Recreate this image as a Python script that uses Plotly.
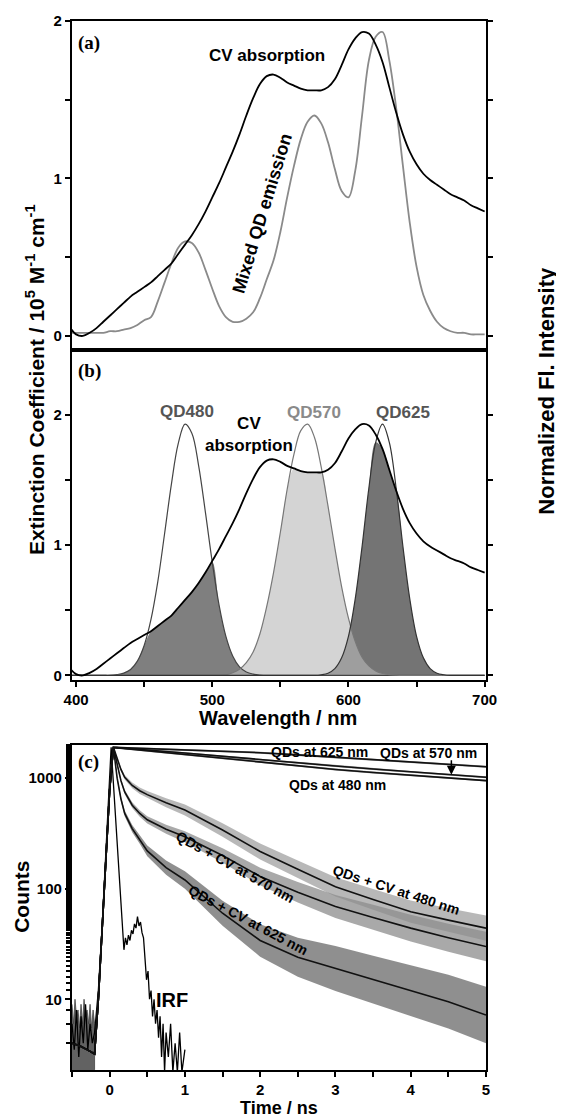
import numpy as np
import plotly.graph_objects as go

# ---------------- data: panels (a) and (b) ----------------
wl = list(range(395, 701, 5))
cv_abs = [0.06, 0.01, 0.00, 0.02, 0.05, 0.09, 0.13, 0.17, 0.21, 0.25,
          0.28, 0.31, 0.34, 0.38, 0.42, 0.46, 0.52, 0.58, 0.64, 0.71,
          0.79, 0.88, 0.97, 1.07, 1.17, 1.28, 1.40, 1.51, 1.60, 1.65,
          1.66, 1.64, 1.61, 1.59, 1.57, 1.56, 1.56, 1.56, 1.58, 1.63,
          1.72, 1.82, 1.89, 1.93, 1.92, 1.85, 1.74, 1.58, 1.42, 1.28,
          1.17, 1.09, 1.03, 0.99, 0.96, 0.93, 0.90, 0.88, 0.86, 0.83,
          0.81, 0.79]
mixed_em = [0.02, 0.02, 0.02, 0.02, 0.02, 0.02, 0.03, 0.03, 0.04, 0.05,
            0.07, 0.10, 0.12, 0.22, 0.34, 0.46, 0.56, 0.60, 0.59, 0.53,
            0.42, 0.30, 0.19, 0.12, 0.09, 0.09, 0.11, 0.15, 0.24, 0.36,
            0.48, 0.66, 0.88, 1.08, 1.25, 1.36, 1.40, 1.35, 1.23, 1.06,
            0.92, 0.88, 1.05, 1.40, 1.75, 1.90, 1.93, 1.75, 1.45, 1.08,
            0.72, 0.44, 0.26, 0.16, 0.09, 0.05, 0.03, 0.02, 0.02, 0.01,
            0.01, 0.01]
qd480 = [0, 0, 0, 0, 0, 0, 0, 0.006, 0.018, 0.046,
         0.11, 0.23, 0.43, 0.72, 1.09, 1.47, 1.78, 1.93, 1.86, 1.61,
         1.25, 0.87, 0.54, 0.30, 0.15, 0.066, 0.026, 0.01, 0.003, 0,
         0, 0, 0, 0, 0, 0, 0, 0, 0, 0,
         0, 0, 0, 0, 0, 0, 0, 0, 0, 0,
         0, 0, 0, 0, 0, 0, 0, 0, 0, 0,
         0, 0]
qd570 = [0, 0, 0, 0, 0, 0, 0, 0, 0, 0,
         0, 0, 0, 0, 0, 0, 0, 0, 0, 0,
         0, 0, 0, 0.005, 0.021, 0.048, 0.098, 0.18, 0.32, 0.53,
         0.79, 1.10, 1.43, 1.70, 1.88, 1.93, 1.83, 1.60, 1.30, 0.98,
         0.68, 0.44, 0.26, 0.14, 0.073, 0.035, 0.015, 0.006, 0.002, 0,
         0, 0, 0, 0, 0, 0, 0, 0, 0, 0,
         0, 0]
qd625 = [0, 0, 0, 0, 0, 0, 0, 0, 0, 0,
         0, 0, 0, 0, 0, 0, 0, 0, 0, 0,
         0, 0, 0, 0, 0, 0, 0, 0, 0, 0,
         0, 0, 0, 0, 0, 0, 0, 0.005, 0.017, 0.052,
         0.135, 0.30, 0.59, 0.99, 1.44, 1.79, 1.93, 1.79, 1.44, 0.99,
         0.59, 0.30, 0.135, 0.052, 0.017, 0.005, 0, 0, 0, 0,
         0, 0]

# ---------------- data: panel (c) ----------------
t = [-0.5, -0.4, -0.3, -0.2, -0.15, -0.1, -0.05, 0.0, 0.05, 0.1, 0.15, 0.2,
     0.3, 0.4, 0.5, 0.75, 1.0, 1.5, 2.0, 2.5, 3.0, 3.5, 4.0, 4.5, 5.0]
rise = [4.0, 3.8, 3.5, 3.2, 10, 43, 180, 780, 1900]
qd625_fit = rise + [1895, 1890, 1885, 1880, 1870, 1860, 1835, 1810, 1755, 1700,
                    1625, 1550, 1475, 1400, 1335, 1270]
qd570_fit = rise + [1890, 1875, 1860, 1840, 1820, 1800, 1745, 1690, 1575, 1470,
                    1375, 1290, 1210, 1140, 1075, 1020]
qd480_fit = rise + [1885, 1865, 1845, 1820, 1795, 1770, 1705, 1640, 1515, 1400,
                    1295, 1200, 1125, 1060, 1000, 950]
cv480_fit = rise + [1500, 1200, 1020, 860, 770, 710, 600, 516, 340, 217,
                    150, 104, 80, 62, 52, 44]
cv570_fit = rise + [1300, 950, 750, 570, 480, 420, 345, 295, 200, 129,
                    93, 69, 55, 44, 36, 30]
cv625_fit = rise + [1000, 650, 480, 350, 280, 220, 155, 120, 60, 34,
                    24, 19, 15, 12, 9.5, 7.2]
# relative scatter of the noisy decay data around each fit
spread_slow = [1.0] * 9 + [1.02] * 16
spread_cv480 = [1.0] * 9 + [1.03, 1.04, 1.05, 1.06, 1.07, 1.08, 1.10, 1.12, 1.15,
                            1.18, 1.2, 1.22, 1.24, 1.26, 1.28, 1.3]
spread_cv570 = [1.0] * 9 + [1.03, 1.04, 1.05, 1.06, 1.07, 1.08, 1.10, 1.12, 1.16,
                            1.2, 1.24, 1.27, 1.3, 1.32, 1.34, 1.36]
spread_cv625 = [1.0] * 9 + [1.04, 1.05, 1.06, 1.08, 1.1, 1.12, 1.16, 1.2, 1.3,
                            1.4, 1.5, 1.6, 1.65, 1.7, 1.75, 1.8]
irf_t = [-0.5, -0.47, -0.44, -0.41, -0.38, -0.35, -0.32, -0.29, -0.26, -0.23,
         -0.2, -0.15, -0.1, -0.05, 0.0, 0.02, 0.05, 0.1, 0.15, 0.19, 0.21,
         0.23, 0.25, 0.27, 0.29, 0.31, 0.33, 0.35, 0.37, 0.39, 0.41, 0.43,
         0.45, 0.47, 0.49, 0.51, 0.53, 0.55, 0.57, 0.59, 0.61, 0.63, 0.65,
         0.67, 0.69, 0.71, 0.73, 0.75, 0.78, 0.81, 0.84, 0.87, 0.9, 0.93,
         0.96, 1.0]
irf = [6, 3.5, 8, 3, 7, 4, 9, 3.5, 6, 4, 5, 12, 45, 200, 900, 1900, 900, 263,
       76, 28, 36, 31, 38, 34, 42, 39, 48, 44, 56, 46, 50, 40, 36, 24, 15, 18,
       10, 12, 7, 10, 6, 8, 4.5, 7, 3, 6, 2.2, 5, 3, 6, 2.2, 4, 2.2, 5, 2.2, 3.5]
# pre-pulse background noise of the decay traces
noise_t = [-0.5, -0.48, -0.46, -0.44, -0.42, -0.4, -0.38, -0.36, -0.34, -0.32,
           -0.3, -0.28, -0.26, -0.24, -0.22, -0.2]
noise_hi = [9, 6, 10, 7, 8, 5.5, 9, 6, 10, 7, 8, 6, 9, 5.5, 8, 6]
noise_lo = [2.3] * 16

FONT = "Liberation Sans, Arial"
SERIF = "Liberation Serif, Times New Roman"

fig = go.Figure()

# panel (a)
fig.add_trace(go.Scatter(x=wl, y=mixed_em, mode="lines", line=dict(color="#8a8a8a", width=1.8, shape="spline"),
                         xaxis="x", yaxis="y", showlegend=False))
fig.add_trace(go.Scatter(x=wl, y=cv_abs, mode="lines", line=dict(color="black", width=1.8, shape="spline"),
                         xaxis="x", yaxis="y", showlegend=False))

# panel (b) fills: overlap of each QD emission with CV absorption
cv_arr = np.array(cv_abs)
for qd, col in [(qd480, "#7f7f7f"), (qd625, "#747474"), (qd570, "rgba(184,184,184,0.61)")]:
    ov = np.minimum(np.array(qd), cv_arr)
    fig.add_trace(go.Scatter(x=wl, y=ov, mode="lines", line=dict(width=0, shape="spline"),
                             fill="tozeroy", fillcolor=col, xaxis="x2", yaxis="y2", showlegend=False))
for qd, col in [(qd480, "#444444"), (qd570, "#777777"), (qd625, "#333333")]:
    fig.add_trace(go.Scatter(x=wl, y=qd, mode="lines", line=dict(color=col, width=1.2, shape="spline"),
                             xaxis="x2", yaxis="y2", showlegend=False))
fig.add_trace(go.Scatter(x=wl, y=cv_abs, mode="lines", line=dict(color="black", width=1.8, shape="spline"),
                         xaxis="x2", yaxis="y2", showlegend=False))

# panel (c)
fig.add_trace(go.Scatter(x=noise_t + noise_t[::-1], y=noise_hi + noise_lo[::-1], fill="toself", mode="lines",
                         fillcolor="rgba(70,70,70,0.85)", line=dict(width=0.8, color="#444444"),
                         xaxis="x3", yaxis="y3", showlegend=False))
for fit, spr, col in [(qd625_fit, spread_slow, "rgba(120,120,120,0.8)"),
                      (qd570_fit, spread_slow, "rgba(120,120,120,0.8)"),
                      (qd480_fit, spread_slow, "rgba(120,120,120,0.8)"),
                      (cv480_fit, spread_cv480, "rgba(160,160,160,0.75)"),
                      (cv570_fit, spread_cv570, "rgba(140,140,140,0.75)"),
                      (cv625_fit, spread_cv625, "rgba(115,115,115,0.8)")]:
    f = np.array(fit, dtype=float)
    s = np.array(spr)
    up = f * s
    lo = f / s
    fig.add_trace(go.Scatter(x=t + t[::-1], y=list(up) + list(lo[::-1]), fill="toself", mode="lines",
                             fillcolor=col, line=dict(width=0), xaxis="x3", yaxis="y3",
                             showlegend=False, hoverinfo="skip"))
fig.add_trace(go.Scatter(x=irf_t, y=irf, mode="lines", line=dict(color="black", width=1.3),
                         xaxis="x3", yaxis="y3", showlegend=False))
for fit in [qd625_fit, qd570_fit, qd480_fit, cv480_fit, cv570_fit, cv625_fit]:
    fig.add_trace(go.Scatter(x=t, y=fit, mode="lines", line=dict(color="#111111", width=1.6),
                             xaxis="x3", yaxis="y3", showlegend=False))

tickfont = dict(family=FONT, size=15, color="black", weight="bold")
axis_common = dict(showline=True, linewidth=2.2, linecolor="black", showgrid=False, zeroline=False,
                   ticks="outside", tickwidth=2, ticklen=5, tickcolor="black", tickfont=tickfont,
                   automargin=False)

# the page body adds an 8 px margin, so the figure is sized and placed to compensate
fig.update_layout(
    width=556, height=1110,
    margin=dict(l=64, r=78, t=13, b=48),
    paper_bgcolor="white", plot_bgcolor="white",
    xaxis=dict(axis_common, domain=[0, 1], anchor="y", range=[397, 701], showticklabels=False,
               ticks="", mirror=True),
    yaxis=dict(axis_common, domain=[0.6864, 1.0], anchor="x", range=[-0.089, 2.0],
               tickvals=[0, 1, 2], mirror="ticks",
               minor=dict(ticks="outside", tickvals=[0.5, 1.5], ticklen=5, tickwidth=2, tickcolor="black")),
    xaxis2=dict(axis_common, domain=[0, 1], anchor="y2", range=[397, 701],
                tickvals=[400, 500, 600, 700], mirror=True,
                minor=dict(ticks="outside", tickvals=[450, 550, 650], ticklen=5, tickwidth=2, tickcolor="black")),
    yaxis2=dict(axis_common, domain=[0.3718, 0.6864], anchor="x2", range=[-0.035, 2.5],
                tickvals=[0, 1, 2], mirror="ticks",
                minor=dict(ticks="outside", tickvals=[0.5, 1.5], ticklen=5, tickwidth=2, tickcolor="black")),
    xaxis3=dict(axis_common, domain=[0, 1], anchor="y3", range=[-0.5, 5],
                tickvals=[0, 1, 2, 3, 4, 5], mirror=True,
                minor=dict(ticks="outside", tickvals=[-0.5, 0.5, 1.5, 2.5, 3.5, 4.5], ticklen=5,
                           tickwidth=2, tickcolor="black")),
    yaxis3=dict(axis_common, domain=[0, 0.3098], anchor="x3", type="log", range=[0.36, 3.30],
                tickvals=[10, 100, 1000], ticktext=["10", "100", "1000"], mirror=True,
                minor=dict(ticks="outside", ticklen=4, tickwidth=1.5, tickcolor="black")),
)

ann = []
def A(text, x, y, xref, yref, size=16, color="black", angle=0, family=FONT, **kw):
    ann.append(dict(text=text, x=x, y=y, xref=xref, yref=yref, showarrow=False, textangle=angle,
                    xanchor="center", yanchor="middle",
                    font=dict(family=family, size=size, color=color, weight="bold"), **kw))

# panel (a)
A("(a)", 409.6, 1.86, "x", "y", size=19, family=SERIF)
A("CV absorption", 540.4, 1.78, "x", "y", size=17)
A("Mixed QD emission", 536.8, 0.78, "x", "y", size=18, angle=-73)
# panel (b)
A("(b)", 409.6, 2.34, "x2", "y2", size=19, family=SERIF)
A("QD480", 481.6, 2.03, "x2", "y2", size=17, color="#555555")
A("CV<br>absorption", 527, 1.85, "x2", "y2", size=17)
A("QD570", 575, 2.02, "x2", "y2", size=17, color="#8a8a8a")
A("QD625", 639.7, 2.02, "x2", "y2", size=17, color="#555555")
# panel (c)
A("(c)", -0.28, 3.148, "x3", "y3", size=19, family=SERIF)
A("QDs at 625 nm", 2.79, 3.238, "x3", "y3", size=14)
A("QDs at 570 nm", 4.23, 3.229, "x3", "y3", size=14)
A("QDs at 480 nm", 3.03, 2.94, "x3", "y3", size=14)
A("QDs + CV at 570 nm", 1.67, 2.199, "x3", "y3", size=14, angle=29)
A("QDs + CV at 480 nm", 3.81, 1.99, "x3", "y3", size=14, angle=18)
A("QDs + CV at 625 nm", 1.84, 1.72, "x3", "y3", size=14, angle=28)
A("IRF", 0.83, 0.994, "x3", "y3", size=20)
ann.append(dict(x=4.54, y=3.03, xref="x3", yref="y3", ax=0, ay=-16, text="", showarrow=True,
                arrowhead=2, arrowsize=1.2, arrowwidth=1.5, arrowcolor="black"))
# axis titles
A("Extinction Coefficient / 10<sup>5</sup> M<sup>-1</sup> cm<sup>-1</sup>", -0.089, 0.658, "paper", "paper",
  size=21, angle=-90)
A("Normalized Fl. Intensity", 1.146, 0.648, "paper", "paper", size=22, angle=-90)
A("Wavelength / nm", 0.498, 0.3355, "paper", "paper", size=20)
A("Counts", -0.121, 0.165, "paper", "paper", size=21, angle=-90)
A("Time / ns", 0.5, -0.0358, "paper", "paper", size=18)

fig.update_layout(annotations=ann)
fig.write_html("out.html")
